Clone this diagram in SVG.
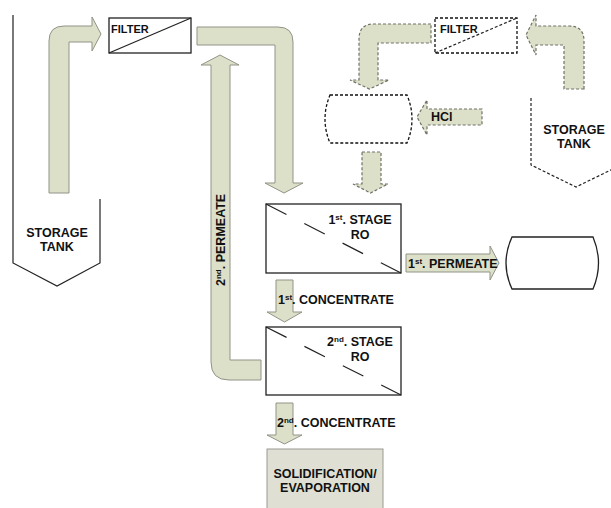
<svg xmlns="http://www.w3.org/2000/svg" width="611" height="508" viewBox="0 0 611 508">
<style>
.t{font-family:"Liberation Sans",Arial,sans-serif;font-weight:bold;font-size:12.5px;fill:#111}
.s{font-size:8px}
.arr{fill:#dde0c9;stroke:#8f9486;stroke-width:1}
.darr{fill:#dde0c9;stroke:#6f7268;stroke-width:1.2;stroke-dasharray:3 2}
.box{fill:#fff;stroke:#222;stroke-width:1.3}
.dbox{fill:#fff;stroke:#111;stroke-width:1.3;stroke-dasharray:3 2}
.line{fill:none;stroke:#222;stroke-width:1.2}
.dline{fill:none;stroke:#222;stroke-width:1.2;stroke-dasharray:3 2}
.diag{fill:none;stroke:#222;stroke-width:1.2;stroke-dasharray:23 20}
</style>
<rect width="611" height="508" fill="#fff"/>
<g id="connectors">
  <path id="a-tank-filter" class="arr" d="M49,193 L49,41 Q49,26 64,26 L92,26 L92,17 L101,34 L92,51 L92,42 L69,42 L69,193 Z"/>
  <path id="a-filter-ro1" class="arr" d="M197,27 L278,27 Q293,27 293,42 L293,183 L303,183 L284,193 L265,183 L275,183 L275,45 L197,45 Z"/>
  <path id="a-perm2" class="arr" d="M230,65 L239,65 L220,55 L201,65 L211,65 L211,362 Q211,380 229,380 L261,380 L261,360 L230,360 Z"/>
  <path id="a-perm1" class="arr" d="M406,254 L490,254 L490,246 L499,263 L490,280 L490,272 L406,272 Z"/>
  <path id="a-conc1" class="arr" d="M276,280 L293,280 L293,312 L302,312 L284.5,322 L267,312 L276,312 Z"/>
  <path id="a-conc2" class="arr" d="M276,403 L293,403 L293,435 L302,435 L284.5,444 L267,435 L276,435 Z"/>
  <path id="a-rtank-rfilter" class="darr" d="M584,89 L584,41 Q584,26 569,26 L536,26 L536,15 L526,35 L536,55 L536,45 L564,45 L564,89 Z"/>
  <path id="a-rfilter-hcltank" class="darr" d="M431,24 L374,24 Q359,24 359,39 L359,80 L350,80 L369.5,89 L389,80 L378,80 L378,43 L431,43 Z"/>
  <path id="a-hcl" class="darr" d="M482,109 L427,109 L427,100 L417,117 L427,135 L427,125 L482,125 Z"/>
  <path id="a-hcltank-ro1" class="darr" d="M362,152 L381,152 L381,184 L388,184 L370.5,193 L353,184 L362,184 Z"/>
</g>
<g id="storage-tank-left">
  <path class="line" d="M13,15 L13,263 L57,286 L100,263 L100,199"/>
  <text class="t" x="57" y="237" text-anchor="middle">STORAGE</text>
  <text class="t" x="57" y="251" text-anchor="middle">TANK</text>
</g>
<g id="filter-left">
  <rect class="box" x="109" y="18" width="82" height="35"/>
  <line class="line" x1="109" y1="53" x2="191" y2="18"/>
  <text class="t" x="111" y="33" style="font-size:11px">FILTER</text>
</g>
<g id="ro1">
  <rect class="box" x="266" y="204" width="135" height="69"/>
  <line class="diag" x1="266" y1="204" x2="401" y2="273"/>
  <text class="t" x="360" y="224" text-anchor="middle">1<tspan class="s" dy="-4">st</tspan><tspan dy="4">. STAGE</tspan></text>
  <text class="t" x="360" y="239" text-anchor="middle">RO</text>
</g>
<g id="ro2">
  <rect class="box" x="266" y="327" width="135" height="68"/>
  <line class="diag" x1="266" y1="327" x2="401" y2="395"/>
  <text class="t" x="360" y="346" text-anchor="middle">2<tspan class="s" dy="-4">nd</tspan><tspan dy="4">. STAGE</tspan></text>
  <text class="t" x="360" y="361" text-anchor="middle">RO</text>
</g>
<g id="permeate-tank">
  <path class="box" d="M512,237 L593,237 Q604,263 593,289 L512,289 Q500,263 512,237 Z"/>
</g>
<g id="solidification">
  <rect x="267" y="449" width="116" height="70" fill="#dfdfd3" stroke="#9a9a92" stroke-width="1"/>
  <text class="t" x="325" y="478" text-anchor="middle">SOLIDIFICATION/</text>
  <text class="t" x="325" y="492" text-anchor="middle">EVAPORATION</text>
</g>
<g id="filter-right">
  <rect class="dbox" x="435" y="18" width="82" height="35"/>
  <line class="dline" x1="435" y1="53" x2="517" y2="18"/>
  <text class="t" x="440" y="33" style="font-size:11px">FILTER</text>
</g>
<g id="hcl-tank">
  <path class="dbox" d="M330,95 L407,95 Q417,119 407,143 L330,143 Q320,119 330,95 Z"/>
</g>
<g id="storage-tank-right">
  <path class="dline" d="M531,98 L531,165 L576,187 L621,165"/>
  <text class="t" x="574" y="134" text-anchor="middle">STORAGE</text>
  <text class="t" x="574" y="148" text-anchor="middle">TANK</text>
</g>
<g id="labels">
  <text class="t" x="431" y="121">HCl</text>
  <text class="t" x="408" y="268">1<tspan class="s" dy="-4">st</tspan><tspan dy="4">. PERMEATE</tspan></text>
  <text class="t" x="278" y="304">1<tspan class="s" dy="-4">st</tspan><tspan dy="4">. CONCENTRATE</tspan></text>
  <text class="t" x="277" y="427">2<tspan class="s" dy="-4">nd</tspan><tspan dy="4">. CONCENTRATE</tspan></text>
  <text class="t" transform="translate(225,286) rotate(-90)">2<tspan class="s" dy="-4">nd</tspan><tspan dy="4">. PERMEATE</tspan></text>
</g>
</svg>
